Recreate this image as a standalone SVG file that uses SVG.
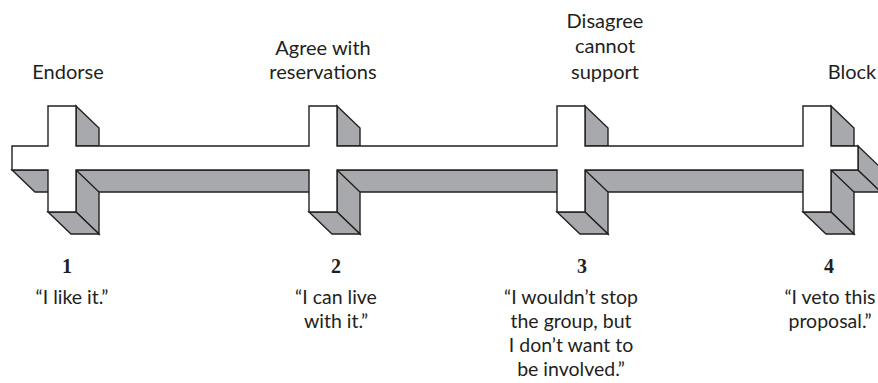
<svg xmlns="http://www.w3.org/2000/svg" width="878" height="383" viewBox="0 0 878 383">
<style>
.side{fill:#a7a9ac;stroke:#231f20;stroke-width:1.4;stroke-linejoin:miter}
.front{fill:#ffffff;stroke:#231f20;stroke-width:1.4}
.lbl{font-family:Lato,"Open Sans",sans-serif;font-size:20px;fill:#231f20;text-anchor:middle}
.q{font-size:19.5px}
.num{font-family:"Liberation Serif",serif;font-weight:bold;font-size:20px;fill:#231f20;text-anchor:middle}
</style>
<rect width="878" height="383" fill="#ffffff"/>
<g id="connectors">
<polygon class="side" points="12,170 858,170 881,192 35,192"/>
<polygon class="side" points="858,146 881,168 881,192 858,170"/>
</g>
<g id="node1">
<polygon class="side" points="76,106 99,128 99,146 76,146"/>
<polygon class="side" points="76,170 99,192 99,234 76,212"/>
<polygon class="side" points="48,212 76,212 99,234 71,234"/>
</g>
<g id="node2">
<polygon class="side" points="337,106 360,128 360,146 337,146"/>
<polygon class="side" points="337,170 360,192 360,234 337,212"/>
<polygon class="side" points="309,212 337,212 360,234 332,234"/>
</g>
<g id="node3">
<polygon class="side" points="585,106 608,128 608,146 585,146"/>
<polygon class="side" points="585,170 608,192 608,234 585,212"/>
<polygon class="side" points="557,212 585,212 608,234 580,234"/>
</g>
<g id="node4">
<polygon class="side" points="831,106 854,128 854,146 831,146"/>
<polygon class="side" points="831,170 854,192 854,234 831,212"/>
<polygon class="side" points="803,212 831,212 854,234 826,234"/>
</g>
<g id="front">
<path class="front" d="M12,146 H48 V106 H76 V146 H309 V106 H337 V146 H557 V106 H585 V146 H803 V106 H831 V146 H858 V170 H831 V212 H803 V170 H585 V212 H557 V170 H337 V212 H309 V170 H76 V212 H48 V170 H12 Z"/>
</g>
<g id="labels">
<text class="lbl" x="68" y="79">Endorse</text>
<text class="lbl" x="323" y="55">Agree with</text>
<text class="lbl" x="323" y="79">reservations</text>
<text class="lbl" x="605" y="28">Disagree</text>
<text class="lbl" x="605" y="53">cannot</text>
<text class="lbl" x="605" y="79">support</text>
<text class="lbl" x="852" y="79">Block</text>
<text class="num" x="67" y="273">1</text>
<text class="num" x="336" y="273">2</text>
<text class="num" x="582" y="273">3</text>
<text class="num" x="829" y="273">4</text>
<text class="lbl q" x="72" y="304">“I like it.”</text>
<text class="lbl q" x="336" y="304">“I can live</text>
<text class="lbl q" x="336" y="328">with it.”</text>
<text class="lbl q" x="571" y="304">“I wouldn’t stop</text>
<text class="lbl q" x="571" y="328">the group, but</text>
<text class="lbl q" x="571" y="352">I don’t want to</text>
<text class="lbl q" x="571" y="376">be involved.”</text>
<text class="lbl q" x="830" y="304">“I veto this</text>
<text class="lbl q" x="830" y="328">proposal.”</text>
</g>
</svg>
